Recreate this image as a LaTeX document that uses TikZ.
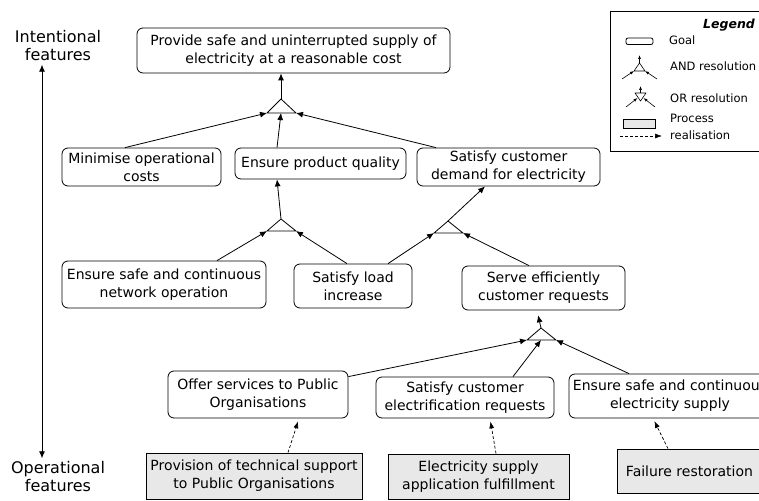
\documentclass[tikz,border=0pt]{standalone}
\usepackage{fontspec}
\setmainfont{DejaVu Sans}
\usepackage{tkz-euclide}
\usepackage{tikz}
\usetikzlibrary{arrows.meta}

\tikzset{
  goal/.style={draw, rounded corners=6pt, align=center, line width=0.8pt,
    font=\fontsize{14}{18}\selectfont, inner sep=1pt},
  proc/.style={draw, fill=gray!18, align=center, line width=0.8pt,
    font=\fontsize{14}{18}\selectfont, inner sep=1pt},
  side/.style={align=center, font=\fontsize{16}{18}\selectfont},
  leg/.style={anchor=west, align=left, inner sep=0pt,
    font=\fontsize{11.5}{17}\selectfont},
  arr/.style={line width=0.8pt, -{Latex[length=7pt,width=6pt]}},
  sarr/.style={line width=0.6pt, -{Latex[length=4pt,width=3pt]}},
  darr/.style={line width=0.7pt, dash pattern=on 3pt off 2pt, shorten >=3pt,
    -{Latex[length=7pt,width=5pt]}},
}

\begin{document}
\begin{tikzpicture}[x=1pt, y=-1pt]
    \useasboundingbox (0,0) rectangle (759,500);
    \node[side] (intent) at (58,46) {Intentional\\features};
    \node[side] (oper) at (58,477) {Operational\\features};
    \draw[line width=0.8pt, {Latex[length=7pt,width=6pt]}-{Latex[length=7pt,width=6pt]}]
        ([xshift=-16]intent.south) -- ([xshift=-16]oper.north);
    \node[goal, minimum width=313, minimum height=45] (supply) at (293.5,50.5) {Provide safe and uninterrupted supply of\\electricity at a reasonable cost};
    \node[goal, minimum width=159, minimum height=38] (costs) at (141.5,167) {Minimise operational\\costs};
    \node[goal, minimum width=171, minimum height=31] (quality) at (320.5,163.5) {Ensure product quality};
    \node[goal, minimum width=183, minimum height=38] (demand) at (508.5,167) {Satisfy customer\\demand for electricity};
    \node[goal, minimum width=204, minimum height=47] (network) at (164,284.5) {Ensure safe and continuous\\network operation};
    \node[goal, minimum width=118, minimum height=44] (load) at (353,286) {Satisfy load\\increase};
    \node[goal, minimum width=163, minimum height=44] (requests) at (543.5,288) {Serve efficiently\\customer requests};
    \node[goal, minimum width=180, minimum height=47] (public) at (258,394.5) {Offer services to Public\\Organisations};
    \node[goal, minimum width=178, minimum height=41] (electrif) at (465,397.5) {Satisfy customer\\electrification requests};
    \node[goal, minimum width=202, minimum height=44] (continuity) at (670,396) {Ensure safe and continuous\\electricity supply};
    \node[proc, minimum width=216, minimum height=46] (support) at (254,476) {Provision of technical support\\to Public Organisations};
    \node[proc, minimum width=181, minimum height=45] (application) at (478.5,476.5) {Electricity supply\\application fulfillment};
    \node[proc, minimum width=145, minimum height=44] (restore) at (689.5,471) {Failure restoration};
    \tkzDefPoints{281/99/A1,267/113/L1,281/113/M1,296/113/R1}
    \tkzDefPoints{281/219/A2,267/231/L2,296/231/R2}
    \tkzDefPoints{448/221/A3,434/233/L3,463/233/R3}
    \tkzDefPoints{541/328/A4,527/340/L4,541/340/M4,556/340/R4}
    \tkzDrawPolygon[line width=0.8pt](A1,L1,R1)
    \tkzDrawPolygon[line width=0.8pt](A2,L2,R2)
    \tkzDrawPolygon[line width=0.8pt](A3,L3,R3)
    \tkzDrawPolygon[line width=0.8pt](A4,L4,R4)
    \draw[arr] (A1) -- (A1 |- supply.south);
    \draw[arr] ([xshift=-16.5]costs.north) -- (L1);
    \draw[arr] ([xshift=-43.5]quality.north) -- (M1);
    \draw[arr] ([xshift=-72.5]demand.north) -- (R1);
    \draw[arr] (A2) -- ([xshift=-43.5]quality.south);
    \draw[arr] ([xshift=53]network.north) -- (L2);
    \draw[arr] ([xshift=-6]load.north) -- (R2);
    \draw[arr] (A3) -- ([xshift=-23.5]demand.south);
    \draw[arr] ([xshift=35]load.north) -- (L3);
    \draw[arr] ([xshift=-14.5]requests.north) -- (R3);
    \draw[arr, shorten >=5pt] (A4) -- ([xshift=-6.5]requests.south);
    \draw[arr] ([yshift=-6]public.north east) -- (L4);
    \draw[arr] ([xshift=48]electrif.north) -- (M4);
    \draw[arr] ([xshift=-41]continuity.north) -- (R4);
    \draw[darr] ([xshift=34]support.north) -- ([xshift=41]public.south);
    \draw[darr] ([xshift=17.5]application.north) -- ([xshift=25]electrif.south);
    \draw[darr] ([xshift=-21.5]restore.north) -- ([xshift=-17]continuity.south);
    %LEGEND
    \draw[line width=0.8pt] (610,11) rectangle (770,151);
    \node[font={\fontsize{12.5}{14}\selectfont\bfseries\itshape}] (legtitle) at (729,25) {Legend};
    \draw[rounded corners=2pt, line width=0.8pt] (626,38) rectangle (653,44.5);
    \node[leg] (leggoal) at (669,40) {Goal};
    \tkzDefPoints{639.5/63/a1,634/71/a2,645/71/a3,639.5/55/a4,622/79/a5,657/79/a6}
    \tkzDrawPolygon[line width=0.6pt](a1,a2,a3)
    \draw[sarr] (a1) -- (a4);
    \draw[sarr] (a5) -- (a2);
    \draw[sarr] (a6) -- (a3);
    \node[leg] (legand) at (670,66) {AND resolution};
    \tkzDefPoints{635/93/o1,646/93/o2,640.5/101/o3,640.5/93/o4,640.5/86/o5}
    \tkzDefPoints{626/107/o6,655/107/o7,637.5/98/o8,643.5/98/o9}
    \tkzDrawPolygon[line width=0.6pt](o1,o2,o3)
    \draw[sarr] (o4) -- (o5);
    \draw[sarr] (o6) -- (o8);
    \draw[sarr] (o7) -- (o9);
    \node[leg] (legor) at (670,98) {OR resolution};
    \draw[fill=gray!18, line width=0.6pt] (623,119) rectangle (655,128.5);
    \tkzDefPoints{620/136/p1,662/136/p2}
    \draw[darr, shorten >=0pt, line width=0.6pt] (p1) -- (p2);
    \node[leg] (legproc) at (670,127) {Process\\realisation};
\end{tikzpicture}
\end{document}
